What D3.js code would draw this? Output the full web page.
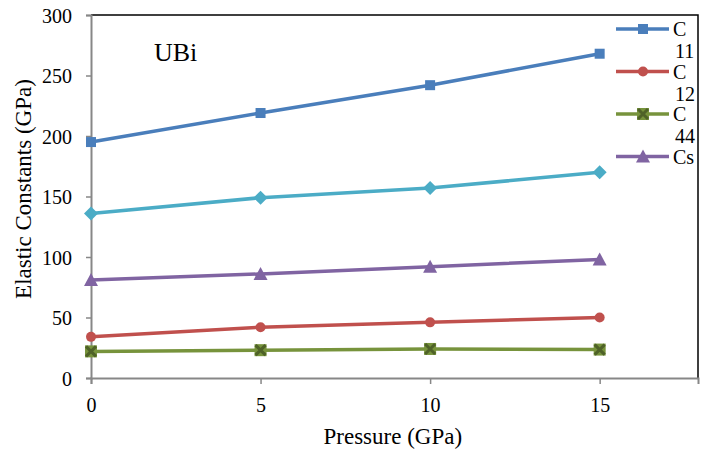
<!DOCTYPE html>
<html>
<head>
<meta charset="utf-8">
<script src="https://cdn.jsdelivr.net/npm/d3@7/dist/d3.min.js"></script>
<style>
  body { margin: 0; background: #fff; }
  svg text { font-family: "Liberation Serif", Tinos, "Times New Roman", "DejaVu Serif", serif; fill: #000; }
</style>
</head>
<body>
<div id="chart"></div>
<script>
// data
var pressure = [0, 5, 10, 15];
var c11 = [195, 219, 242, 268];
var bulk = [136, 149, 157, 170];
var cs = [81, 86, 92, 98];
var c12 = [34, 42, 46, 50];
var c44 = [22, 23, 24, 23.5];
var xTicks = [0, 5, 10, 15];
var yTicks = [0, 50, 100, 150, 200, 250, 300];

var W = 709, H = 451;
var serif = "'Liberation Serif', Tinos, 'Times New Roman', 'DejaVu Serif', serif";
var margin = {top: 15, right: 11, bottom: 73, left: 91};
var width = W - margin.left - margin.right;
var height = H - margin.top - margin.bottom;

var svg = d3.select("#chart").append("svg")
    .attr("width", W)
    .attr("height", H);

var g = svg.append("g")
    .attr("transform", "translate(" + margin.left + "," + margin.top + ")");

var x = d3.scaleLinear().domain([0, 17.9]).range([0, width]);
var y = d3.scaleLinear().domain([0, 300]).range([height, 0]);

// frame (top + right black)
g.append("path")
    .attr("d", "M0,0H" + width + "V" + height)
    .attr("fill", "none")
    .attr("stroke", "#000")
    .attr("stroke-width", 1.5);

var xAxis = g.append("g")
    .attr("transform", "translate(0," + height + ")")
    .call(d3.axisBottom(x).tickValues(xTicks).tickSize(6).tickPadding(14));
var yAxis = g.append("g")
    .call(d3.axisLeft(y).tickValues(yTicks).tickSize(5).tickPadding(14));

[xAxis, yAxis].forEach(function(a) {
  a.attr("font-family", null);
  a.select(".domain").attr("stroke", "#878787").attr("stroke-width", 2);
  a.selectAll(".tick line").attr("stroke", "#878787").attr("stroke-width", 1.5);
  a.selectAll(".tick text")
    .style("font-family", serif)
    .style("font-size", "20px")
    .attr("fill", "#000");
});
yAxis.selectAll(".tick text").attr("dy", "0.35em");

var series = [
  {name: "c11", values: c11, color: "#4a7ebb", marker: "square"},
  {name: "bulk", values: bulk, color: "#4bacc6", marker: "diamond"},
  {name: "cs", values: cs, color: "#8064a2", marker: "triangle"},
  {name: "c12", values: c12, color: "#c0504d", marker: "circle"},
  {name: "c44", values: c44, color: "#77933c", marker: "cross"}
];

var line = d3.line()
    .x(function(d) { return x(d.p); })
    .y(function(d) { return y(d.v); });

function drawMarker(sel, type, color) {
  if (type === "square") {
    sel.append("rect").attr("x", -5).attr("y", -5).attr("width", 10).attr("height", 10).attr("fill", color);
  } else if (type === "diamond") {
    sel.append("path").attr("d", "M0,-7L7,0L0,7L-7,0Z").attr("fill", color);
  } else if (type === "triangle") {
    sel.append("path").attr("d", "M0,-7L7,6L-7,6Z").attr("fill", color);
  } else if (type === "circle") {
    sel.append("circle").attr("r", 5).attr("fill", color);
  } else if (type === "cross") {
    sel.append("rect").attr("x", -6).attr("y", -6).attr("width", 12).attr("height", 12).attr("fill", color);
    sel.append("path").attr("d", "M-5,-5L5,5M5,-5L-5,5").attr("stroke", "#4f6228").attr("stroke-width", 3);
  }
}

series.forEach(function(s) {
  var pts = pressure.map(function(p, i) { return {p: p, v: s.values[i]}; });
  g.append("path")
      .datum(pts)
      .attr("d", line)
      .attr("fill", "none")
      .attr("stroke", s.color)
      .attr("stroke-width", 3.5);
  g.selectAll(".m-" + s.name)
      .data(pts)
      .enter()
      .append("g")
      .attr("class", "m-" + s.name)
      .attr("transform", function(d) { return "translate(" + x(d.p) + "," + y(d.v) + ")"; })
      .each(function() { drawMarker(d3.select(this), s.marker, s.color); });
});

// legend (subscripts wrap onto next line as in original)
var legendItems = [
  {label: "C", sub: "11", color: "#4a7ebb", marker: "square"},
  {label: "C", sub: "12", color: "#c0504d", marker: "circle"},
  {label: "C", sub: "44", color: "#77933c", marker: "cross"},
  {label: "Cs", sub: "", color: "#8064a2", marker: "triangle"}
];
var legend = svg.selectAll(".legend")
    .data(legendItems)
    .enter()
    .append("g")
    .attr("class", "legend")
    .attr("transform", function(d, i) { return "translate(616," + (29 + i * 42.5) + ")"; });
legend.append("line")
    .attr("x1", 0).attr("x2", 53)
    .attr("stroke", function(d) { return d.color; })
    .attr("stroke-width", 3.5);
legend.each(function(d) {
  var m = d3.select(this).append("g").attr("transform", "translate(27,0)");
  drawMarker(m, d.marker, d.color);
});
legend.append("text")
    .attr("x", 57).attr("y", 7)
    .style("font-size", "20px")
    .text(function(d) { return d.label; });
legend.append("text")
    .attr("x", 59).attr("y", 29)
    .style("font-size", "20px")
    .text(function(d) { return d.sub; });

svg.append("text")
    .attr("x", 154).attr("y", 61)
    .style("font-size", "26px")
    .text("UBi");

svg.append("text")
    .attr("x", margin.left + x(8.9)).attr("y", 444)
    .attr("text-anchor", "middle")
    .style("font-size", "23px")
    .text("Pressure (GPa)");

svg.append("text")
    .attr("transform", "translate(31,189) rotate(-90)")
    .attr("text-anchor", "middle")
    .style("font-size", "23px")
    .text("Elastic Constants (GPa)");
</script>
</body>
</html>
